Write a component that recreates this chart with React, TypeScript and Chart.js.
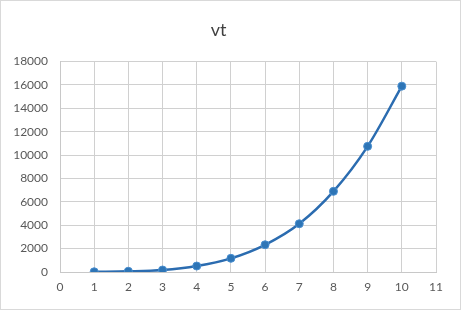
import React, { useEffect, useRef } from "react";
import { Chart, registerables } from "chart.js";

Chart.register(...registerables);

const xValues = [1, 2, 3, 4, 5, 6, 7, 8, 9, 10];
const vtValues = [20, 60, 170, 510, 1170, 2330, 4130, 6900, 10750, 15900];
const titleText = "vt";

export default function App() {
  const ref = useRef<HTMLCanvasElement | null>(null);

  useEffect(() => {
    document.body.style.margin = "0";
    const ctx = ref.current!.getContext("2d")!;
    const chart = new Chart(ctx, {
      type: "line",
      data: {
        datasets: [
          {
            label: titleText,
            data: xValues.map((x, i) => ({ x, y: vtValues[i] })),
            borderColor: "#2b6cb0",
            borderWidth: 2.5,
            backgroundColor: "#2e75b6",
            pointBackgroundColor: "#2e75b6",
            pointBorderColor: "#4a8fd0",
            pointBorderWidth: 1,
            pointRadius: 4,
            tension: 0.35,
            cubicInterpolationMode: "monotone",
            fill: false,
          },
        ],
      },
      options: {
        animation: false,
        responsive: false,
        maintainAspectRatio: false,
        layout: { padding: { left: 0, right: 24, top: 0, bottom: 0 } },
        plugins: {
          legend: { display: false },
          tooltip: { enabled: false },
          title: {
            display: true,
            text: titleText,
            color: "#404040",
            font: { family: "Lato", size: 18, weight: "normal" },
            padding: { top: 18, bottom: 21 },
          },
        },
        scales: {
          x: {
            type: "linear",
            min: 0,
            max: 11,
            ticks: {
              stepSize: 1,
              color: "#595959",
              font: { family: "Lato", size: 12 },
              padding: 8,
              callback: (v: any) => String(v),
            },
            grid: { color: "#d0d0d0", lineWidth: 1, drawTicks: false },
            border: { color: "#c8c8c8" },
            afterFit: (s: any) => {
              s.height = 37;
            },
          },
          y: {
            min: 0,
            max: 18000,
            ticks: {
              stepSize: 2000,
              color: "#595959",
              font: { family: "Lato", size: 12 },
              padding: 12,
              callback: (v: any) => String(v),
            },
            grid: { color: "#d0d0d0", lineWidth: 1, drawTicks: false },
            border: { color: "#c8c8c8" },
            afterFit: (s: any) => {
              s.width = 59;
            },
          },
        },
      },
    });
    return () => chart.destroy();
  }, []);

  return (
    <div
      style={{
        width: 461,
        height: 310,
        position: "relative",
        boxSizing: "border-box",
        border: "1px solid #d9d9d9",
        background: "#fff",
      }}
    >
      <canvas
        ref={ref}
        width={459}
        height={308}
        style={{ display: "block", width: 459, height: 308 }}
      />
    </div>
  );
}
